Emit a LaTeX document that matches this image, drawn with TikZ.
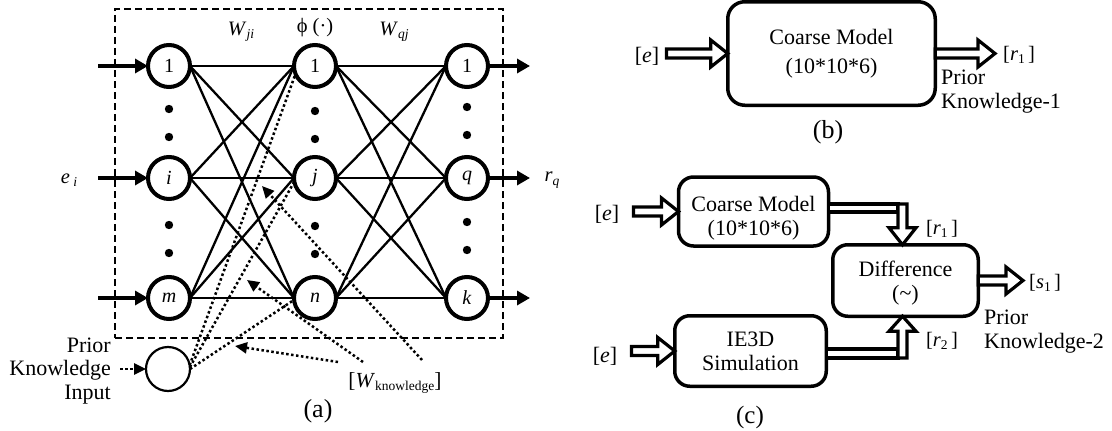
\documentclass[tikz,border=0pt]{standalone}
\usepackage{fontspec}
\setmainfont{Liberation Serif}
\usetikzlibrary{arrows.meta,calc}
\newcommand\lo[1]{\raisebox{-0.35ex}{\fontsize{13.5}{13.5}\selectfont #1}}
\newcommand\harrow[2]{\draw[hol] let \p1=(#1), \p2=(#2) in
  (\x1,\y1+4.5pt) -- (\x2-17pt,\y1+4.5pt) -- (\x2-17pt,\y1+13.5pt) -- (\x2,\y1)
  -- (\x2-17pt,\y1-13.5pt) -- (\x2-17pt,\y1-4.5pt) -- (\x1,\y1-4.5pt) -- cycle;}
\begin{document}
\begin{tikzpicture}[x=1pt,y=-1pt,
  neuron/.style={circle,draw,line width=4pt,minimum size=42pt,inner sep=0pt,outer sep=0pt,font=\fontsize{20}{20}\selectfont},
  pknode/.style={circle,draw,line width=2.2pt,minimum size=44pt,inner sep=0pt,outer sep=0pt},
  conn/.style={line width=2.3pt},
  thickarrow/.style={line width=4pt,-{Triangle[length=13pt,width=14pt]}},
  dotline/.style={line width=2.5pt,dash pattern=on 2.5pt off 2.5pt},
  dotarrow/.style={dotline,-{Triangle[length=12pt,width=11pt]}},
  lbl/.style={inner sep=0pt,font=\fontsize{20.5}{24}\selectfont},
  txt/.style={inner sep=0pt,font=\fontsize{22}{23.5}\selectfont},
  captxt/.style={inner sep=0pt,font=\fontsize{26}{26}\selectfont},
  rbox/.style={draw,rounded corners=15pt,line width=3.5pt,outer sep=0pt,inner sep=0pt,align=center,font=\fontsize{22}{24}\selectfont},
  hol/.style={draw,fill=white,line width=3.2pt,line join=miter},
]
\useasboundingbox (0,0) rectangle (1112,431);

% ---------- (a) ----------
\node[draw,line width=1.6pt,dash pattern=on 7pt off 4pt,minimum width=388pt,minimum height=329pt,inner sep=0pt,outer sep=0pt] (frame) at (309,173.5) {};

\node[neuron] (i1) at (169,66) {1};
\node[neuron] (ii) at (169,178) {\textit{i}};
\node[neuron] (im) at (169,298) {\textit{m}};
\node[neuron] (h1) at (315,66) {1};
\node[neuron] (hj) at (315,178) {\textit{j}};
\node[neuron] (hn) at (315,298) {\textit{n}};
\node[neuron] (o1) at (467,66) {1};
\node[neuron] (oq) at (467,178) {\textit{q}};
\node[neuron] (ok) at (467,298) {\textit{k}};

\foreach \a in {i1,ii,im} \foreach \b in {h1,hj,hn} \draw[conn] (\a.east) -- (\b.west);
\foreach \a in {h1,hj,hn} \foreach \b in {o1,oq,ok} \draw[conn] (\a.east) -- (\b.west);

\foreach \x/\y in {169/109,169/137,169/225,169/253,315/111,315/139,315/226,315/254,467/107,467/135,467/222,467/250}
  \fill (\x,\y) circle (4.2pt);

\coordinate (a1) at (98,66);
\coordinate (a2) at (98,178);
\coordinate (a3) at (98,298);
\coordinate (b1) at (530,66);
\coordinate (b2) at (530,178);
\coordinate (b3) at (530,298);
\draw[thickarrow] (a1) -- (i1.west);
\draw[thickarrow] (a2) -- (ii.west);
\draw[thickarrow] (a3) -- (im.west);
\draw[thickarrow] (o1.east) -- (b1);
\draw[thickarrow] (oq.east) -- (b2);
\draw[thickarrow] (ok.east) -- (b3);

\node[lbl] (ei) at (69,180) {\textit{e}\,\lo{\textit{i}}};
\node[lbl] (rq) at (552,180) {\textit{r}\lo{\textit{q}}};
\node[lbl] (wji) at (241,32) {\textit{W}\lo{\textit{ji}}};
\node[lbl] (phi) at (315,28) {ϕ (·)};
\node[lbl] (wqj) at (394,32) {\textit{W}\lo{\textit{qj}}};

\node[pknode] (pk) at (168,369) {};
\node[txt,align=right,anchor=east] (pktext) at (111,371) {Prior\\Knowledge\\Input};
\coordinate (pkin) at (120,369);
\draw[dotarrow] (pkin) -- (pk.west);
\draw[dotline] (pk.10) -- (h1.202);
\draw[dotline] (pk.5) -- (hj.190);
\draw[dotline] (pk.0) -- (hn.185);

\node[lbl,font=\fontsize{21.5}{24}\selectfont] (wk) at (395,383) {[\textit{W}\lo{knowledge}]};
\coordinate (k1s) at (338,362);
\coordinate (k1t) at (235,346);
\coordinate (k2s) at (363,362);
\coordinate (k2t) at (247,280);
\coordinate (k3s) at (422,360);
\coordinate (k3t) at (262,186);
\draw[dotarrow] (k1s) -- (k1t);
\draw[dotarrow] (k2s) -- (k2t);
\draw[dotarrow] (k3s) -- (k3t);

\node[captxt] (capa) at (318,411) {(a)};

% ---------- (b) ----------
\node[rbox,rounded corners=17pt,minimum width=207.5pt,minimum height=103.5pt,font=\fontsize{22}{29}\selectfont] (cmB) at (831.5,53.5) {Coarse Model\\(10*10*6)};
\node[lbl,font=\fontsize{22}{22}\selectfont] (eB) at (647,56) {[\textit{e}]};
\harrow{$(eB.east |- cmB.west)+(7,0)$}{cmB.west}
\node[lbl,anchor=west] (r1B) at (1003,55) {[\textit{r}\lo{1}\,]};
\harrow{cmB.east}{$(r1B.west)+(-8,0)$}
\node[txt,anchor=west,align=left] (pk1) at (941,91.5) {Prior\\Knowledge-1};
\node[captxt] (capb) at (828,132) {(b)};

% ---------- (c) ----------
\node[rbox,minimum width=150pt,minimum height=69pt] (cmC) at (753.5,211.5) {};
\node[inner sep=0pt,align=center,font=\fontsize{22}{24}\selectfont] (cmCt) at (753.5,218) {Coarse Model\\(10*10*6)};
\node[rbox,minimum width=151.5pt,minimum height=70.5pt] (ie) at (750.5,351) {IE3D\\Simulation};
\node[rbox,minimum width=145.5pt,minimum height=71.5pt] (diff) at (905.5,280.5) {};
\node[inner sep=0pt,align=center,font=\fontsize{22}{24.5}\selectfont] (difft) at (905.5,283) {Difference\\(\textasciitilde)};

\node[lbl,font=\fontsize{22}{22}\selectfont] (eC1) at (607,214) {[\textit{e}]};
\node[lbl,font=\fontsize{22}{22}\selectfont] (eC2) at (605,356) {[\textit{e}]};
\harrow{$(eC1.east |- cmC.west)+(14,0)$}{cmC.west}
\harrow{$(eC2.east |- ie.west)+(14,0)$}{ie.west}

% top pipe
\draw[hol] let \p1=(cmC.east), \p2=(diff.north) in
  (\x1,\y1+7.5pt) -- (\x2-7.5pt,\y1+7.5pt) -- (\x2-7.5pt,\y1-0.5pt) -- (\x1,\y1-0.5pt) -- cycle;
\draw[hol] let \p1=(cmC.east), \p2=(diff.north) in
  (\x2-7.5pt,\y1+7.5pt) -- (\x2+1.5pt,\y1+7.5pt) -- (\x2+1.5pt,\y2+17pt) -- (\x2+10.5pt,\y2+17pt)
  -- (\x2-3pt,\y2) -- (\x2-16.5pt,\y2+17pt) -- (\x2-7.5pt,\y2+17pt) -- cycle;
% bottom pipe
\draw[hol] let \p1=(ie.east), \p2=(diff.south) in
  (\x1,\y1+2pt) -- (\x2-7.5pt,\y1+2pt) -- (\x2-7.5pt,\y1-7pt) -- (\x1,\y1-7pt) -- cycle;
\draw[hol] let \p1=(ie.east), \p2=(diff.south) in
  (\x2-7.5pt,\y1-7pt) -- (\x2+1.5pt,\y1-7pt) -- (\x2+1.5pt,\y2-15pt) -- (\x2+10.5pt,\y2-15pt)
  -- (\x2-3pt,\y2) -- (\x2-16.5pt,\y2-15pt) -- (\x2-7.5pt,\y2-15pt) -- cycle;

\node[lbl] (r1C) at (942,229) {[\textit{r}\lo{1}\,]};
\node[lbl] (r2C) at (942,341) {[\textit{r}\lo{2}\,]};
\node[lbl,anchor=west] (s1) at (1029,283) {[\textit{s}\lo{1}\,]};
\harrow{diff.east}{$(s1.west)+(-6,0)$}
\node[txt,anchor=west,align=left] (pk2) at (984,331.5) {Prior\\Knowledge-2};
\node[captxt,font=\fontsize{25}{25}\selectfont] (capc) at (750,417) {(c)};
\end{tikzpicture}
\end{document}
